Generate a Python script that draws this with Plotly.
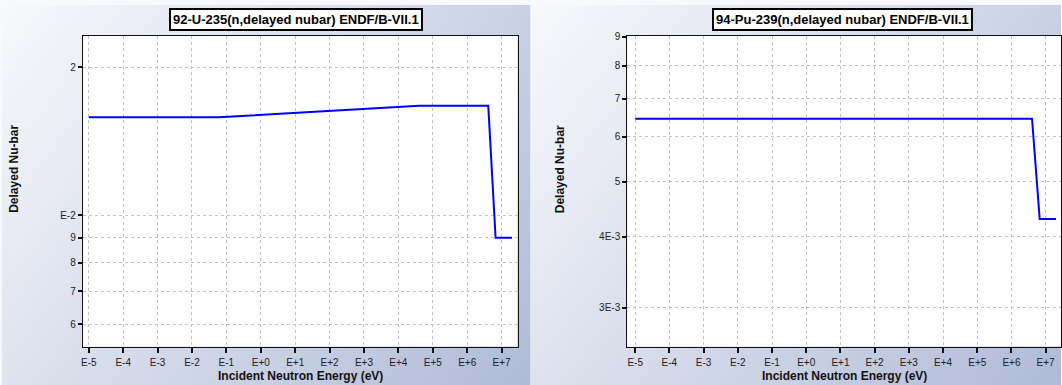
import base64, struct, zlib
import plotly.graph_objects as go

# ---------------- data ----------------
u235_energy = [1e-5, 0.06, 4e4, 4.1e6, 6.7e6, 2.0e7]
u235_nubar = [0.01581, 0.01581, 0.01668, 0.01668, 0.0090, 0.0090]

pu239_energy = [1e-5, 4.0e6, 6.7e6, 2.0e7]
pu239_nubar = [0.00645, 0.00645, 0.0043, 0.0043]

x_tickvals = [10.0 ** k for k in range(-5, 8)]
x_ticktext = ["E-5", "E-4", "E-3", "E-2", "E-1", "E+0", "E+1", "E+2", "E+3", "E+4", "E+5", "E+6", "E+7"]

u235_ytickvals = [0.006, 0.007, 0.008, 0.009, 0.01, 0.02]
u235_yticktext = ["6", "7", "8", "9", "E-2", "2"]

pu239_ytickvals = [0.003, 0.004, 0.005, 0.006, 0.007, 0.008, 0.009]
pu239_yticktext = ["3E-3", "4E-3", "5", "6", "7", "8", "9"]

titles = ["92-U-235(n,delayed nubar) ENDF/B-VII.1", "94-Pu-239(n,delayed nubar) ENDF/B-VII.1"]
x_title = "Incident Neutron Energy (eV)"
y_title = "Delayed Nu-bar"

# ---------------- gradient background image ----------------
def gradient_png(w, h):
    top_left = (248, 249, 252)
    dx = (47, 40, 23)
    dy = (25, 22, 14)
    rows = []
    for j in range(h):
        v = j / (h - 1)
        row = bytearray([0])
        for i in range(w):
            u = i / (w - 1)
            for c in range(3):
                row.append(max(0, min(255, int(round(top_left[c] - dx[c] * u - dy[c] * v)))))
        rows.append(bytes(row))
    raw = b"".join(rows)

    def chunk(tag, data):
        c = struct.pack(">I", len(data)) + tag + data
        return c + struct.pack(">I", zlib.crc32(tag + data) & 0xFFFFFFFF)

    png = b"\x89PNG\r\n\x1a\n"
    png += chunk(b"IHDR", struct.pack(">IIBBBBB", w, h, 8, 2, 0, 0, 0))
    png += chunk(b"IDAT", zlib.compress(raw, 9))
    png += chunk(b"IEND", b"")
    return "data:image/png;base64," + base64.b64encode(png).decode()

bg = gradient_png(128, 96)

W, H = 1062, 385
FONT = "Liberation Sans, Arial, sans-serif"

fig = go.Figure()

fig.add_trace(go.Scatter(x=u235_energy, y=u235_nubar, mode="lines",
                         line=dict(color="#0000ff", width=2), xaxis="x", yaxis="y",
                         showlegend=False, hoverinfo="x+y"))
fig.add_trace(go.Scatter(x=pu239_energy, y=pu239_nubar, mode="lines",
                         line=dict(color="#0000ff", width=2), xaxis="x2", yaxis="y2",
                         showlegend=False, hoverinfo="x+y"))

tickfont = dict(family=FONT, size=10, color="#222222")
GRID = "#c4c4c4"

def xaxis(domain, rng, anchor):
    return dict(type="log", domain=domain, range=rng, anchor=anchor,
                tickmode="array", tickvals=x_tickvals, ticktext=x_ticktext,
                ticks="outside", ticklen=5, tickwidth=2, tickcolor="#111111",
                ticklabelstandoff=1,
                showgrid=True, gridcolor=GRID, gridwidth=1, griddash="dot",
                showline=True, linecolor="#111111", linewidth=1, mirror=True,
                tickfont=tickfont, zeroline=False, fixedrange=True)

def xaxis_overlay(domain, rng, anchor, over):
    return dict(type="log", domain=domain, range=rng, anchor=anchor, overlaying=over,
                tickmode="array", tickvals=x_tickvals, ticktext=x_ticktext,
                ticks="inside", ticklen=5, tickwidth=2, tickcolor="#111111",
                showticklabels=False, showgrid=False, showline=False, zeroline=False,
                fixedrange=True)

def yaxis(domain, rng, anchor, vals, text):
    return dict(type="log", domain=domain, range=rng, anchor=anchor,
                tickmode="array", tickvals=vals, ticktext=text,
                ticks="outside", ticklen=4, tickwidth=2, tickcolor="#111111",
                showgrid=True, gridcolor=GRID, gridwidth=1, griddash="dot",
                showline=True, linecolor="#111111", linewidth=1, mirror=True,
                tickfont=tickfont, zeroline=False, fixedrange=True)

left_dom = [81 / W, 517 / W]
right_dom = [627 / W, 1.0]
left_ydom = [(H - 346) / H, (H - 31) / H]
right_ydom = [(H - 346) / H, (H - 31.5) / H]

fig.update_layout(
    width=W, height=H,
    margin=dict(l=0, r=0, t=0, b=0),
    paper_bgcolor="#f8f9fc",
    plot_bgcolor="#ffffff",
    showlegend=False,
    xaxis=xaxis(left_dom, [-5.174, 7.464], "y"),
    yaxis=yaxis(left_ydom, [-2.267, -1.635], "x", u235_ytickvals, u235_yticktext),
    xaxis2=xaxis(right_dom, [-5.233, 7.449], "y2"),
    yaxis2=yaxis(right_ydom, [-2.591, -2.045], "x2", pu239_ytickvals, pu239_yticktext),
    xaxis3=xaxis_overlay(left_dom, [-5.174, 7.464], "y", "x"),
    xaxis4=xaxis_overlay(right_dom, [-5.233, 7.449], "y2", "x2"),
    images=[
        dict(source=bg, xref="paper", yref="paper", x=0, y=1, sizex=530 / W, sizey=1,
             sizing="stretch", layer="below", xanchor="left", yanchor="top"),
        dict(source=bg, xref="paper", yref="paper", x=530 / W, y=1, sizex=532 / W, sizey=1,
             sizing="stretch", layer="below", xanchor="left", yanchor="top"),
    ],
    shapes=[
        dict(type="rect", xref="x domain", yref="y domain", x0=0, x1=1, y0=0, y1=1,
             fillcolor="#ffffff", line=dict(width=0), layer="below"),
        dict(type="rect", xref="x2 domain", yref="y2 domain", x0=0, x1=1, y0=0, y1=1,
             fillcolor="#ffffff", line=dict(width=0), layer="below"),
    ],
)

annots = []
for title, cx in zip(titles, [295, 843]):
    annots.append(dict(text="<b>" + title + "</b>", x=cx / W, y=(H - 14.5) / H,
                       xref="paper", yref="paper", showarrow=False,
                       xanchor="center", yanchor="middle",
                       font=dict(family=FONT, size=13, color="#000000"),
                       bgcolor="#ffffff", bordercolor="#000000", borderwidth=2, borderpad=2))
for cx in [299, 845]:
    annots.append(dict(text="<b>" + x_title + "</b>", x=cx / W, y=(H - 376) / H,
                       xref="paper", yref="paper", showarrow=False,
                       xanchor="center", yanchor="middle",
                       font=dict(family=FONT, size=12, color="#111111")))
for cx in [12, 559]:
    annots.append(dict(text="<b>" + y_title + "</b>", x=cx / W, y=(H - 166) / H,
                       xref="paper", yref="paper", showarrow=False, textangle=-90,
                       xanchor="center", yanchor="middle",
                       font=dict(family=FONT, size=12, color="#111111")))
fig.update_layout(annotations=annots)

fig.write_html("out.html", config={"displayModeBar": False},
               post_script="document.body.style.margin='0';document.body.style.overflow='hidden';")
